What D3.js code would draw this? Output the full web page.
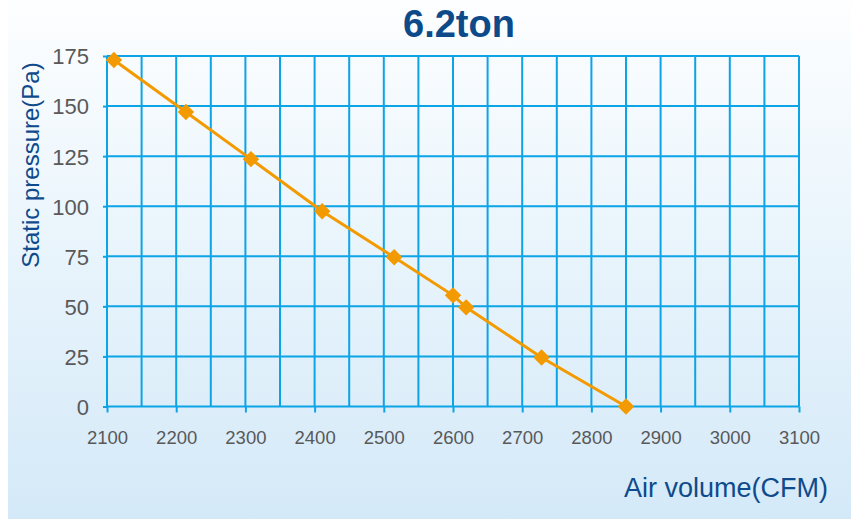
<!DOCTYPE html>
<html><head><meta charset="utf-8">
<script src="https://cdn.jsdelivr.net/npm/d3@7"></script>
<style>html,body{margin:0;padding:0;background:#fff;}svg{display:block;}</style>
</head><body>
<svg id="c" width="851" height="519"></svg>
<script>
const title = "6.2ton";
const xLabel = "Air volume(CFM)";
const yLabel = "Static pressure(Pa)";
const airVolume = [2110, 2214, 2308, 2411, 2515, 2600, 2619, 2728, 2850];
const staticPressure = [173, 147, 123.5, 97.5, 74.5, 55.5, 49.5, 24.5, 0];
const xTicks = [2100, 2200, 2300, 2400, 2500, 2600, 2700, 2800, 2900, 3000, 3100];
const xGrid = d3.range(2100, 3101, 50);
const yTicks = [0, 25, 50, 75, 100, 125, 150, 175];

const svg = d3.select("#c");
const defs = svg.append("defs");
const g = defs.append("linearGradient").attr("id","bg").attr("x1",0).attr("y1",0).attr("x2",0).attr("y2",1);
g.append("stop").attr("offset","0%").attr("stop-color","#fdfeff");
g.append("stop").attr("offset","45%").attr("stop-color","#eaf5fc");
g.append("stop").attr("offset","100%").attr("stop-color","#d4e9f8");
svg.append("rect").attr("x",8).attr("y",0).attr("width",843).attr("height",519).attr("fill","url(#bg)");

const x = d3.scaleLinear().domain([2100,3100]).range([107,799]);
const y = d3.scaleLinear().domain([0,175]).range([406.5,56]);
const gridColor = "#0ba4e6";
const font = "'Liberation Sans', Arial, sans-serif";

svg.append("g").selectAll("line").data(xGrid).join("line")
  .attr("x1",d=>x(d)).attr("x2",d=>x(d)).attr("y1",y(175)).attr("y2",y(0))
  .attr("stroke",gridColor).attr("stroke-width",2);
svg.append("g").selectAll("line").data(yTicks).join("line")
  .attr("x1",x(2100)).attr("x2",x(3100)).attr("y1",d=>y(d)).attr("y2",d=>y(d))
  .attr("stroke",gridColor).attr("stroke-width",2);

const xa = svg.append("g").attr("transform",`translate(0,${y(0)})`)
  .call(d3.axisBottom(x).tickValues(xTicks).tickSize(6).tickPadding(18).tickFormat(d3.format("d")));
xa.select(".domain").remove();
xa.selectAll(".tick line").attr("stroke",gridColor).attr("stroke-width",2);
xa.selectAll(".tick text").attr("fill","#595959").attr("font-family",font).attr("font-size",18.5);

const ya = svg.append("g").attr("transform",`translate(${x(2100)},0)`)
  .call(d3.axisLeft(y).tickValues(yTicks).tickSize(4).tickPadding(14));
ya.select(".domain").remove();
ya.selectAll(".tick line").attr("stroke",gridColor).attr("stroke-width",2);
ya.selectAll(".tick text").attr("fill","#595959").attr("font-family",font).attr("font-size",22).attr("dy","0.36em");

const pts = airVolume.map((v,i)=>[v, staticPressure[i]]);
svg.append("path").datum(pts)
  .attr("d", d3.line().x(d=>x(d[0])).y(d=>y(d[1])))
  .attr("fill","none").attr("stroke","#f39a00").attr("stroke-width",3);
svg.append("g").selectAll("path").data(pts).join("path")
  .attr("d", d3.symbol().type(d3.symbolSquare).size(135))
  .attr("transform", d=>`translate(${x(d[0])},${y(d[1])}) rotate(45)`)
  .attr("fill","#f39a00");

svg.append("text").attr("x",459).attr("y",37).attr("text-anchor","middle")
  .attr("font-family",font).attr("font-weight","bold").attr("font-size",38)
  .attr("fill","#0d4a8a").text(title);
svg.append("text").attr("x",828).attr("y",497).attr("text-anchor","end")
  .attr("font-family",font).attr("font-size",27)
  .attr("fill","#0f4a8c").text(xLabel);
svg.append("text").attr("transform","translate(39,165) rotate(-90)").attr("text-anchor","middle")
  .attr("font-family",font).attr("font-size",24)
  .attr("fill","#0f4a8c").text(yLabel);
</script>
</body></html>
